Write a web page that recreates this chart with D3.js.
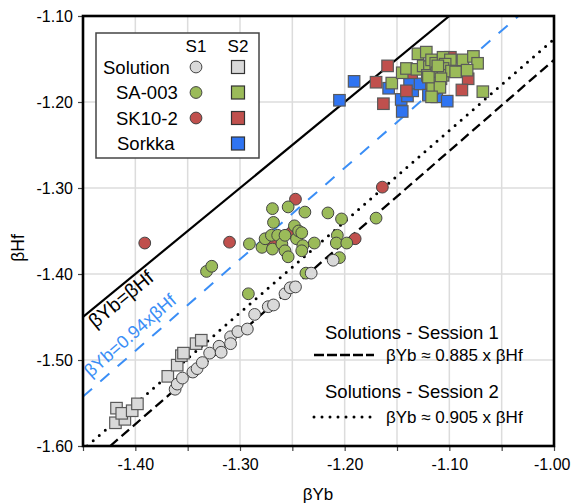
<!DOCTYPE html>
<html>
<head>
<meta charset="utf-8">
<script src="https://cdn.jsdelivr.net/npm/d3@7"></script>
<style>
  body { margin: 0; background: #fff; }
  svg { display: block; }
  text { font-family: "Liberation Sans", Arial, Helvetica, sans-serif; fill: #000; }
</style>
</head>
<body>
<svg id="chart" width="571" height="503"></svg>
<script>
// ---- data: [βYb, βHf] pairs ----
const solutionS1 = [[-1.362,-1.534],[-1.360,-1.528],[-1.355,-1.521],[-1.345,-1.514],[-1.341,-1.510],
  [-1.336,-1.503],[-1.329,-1.492],[-1.320,-1.484],[-1.318,-1.491],[-1.309,-1.473],[-1.309,-1.481],
  [-1.302,-1.467],[-1.293,-1.464],[-1.286,-1.447],[-1.273,-1.438],[-1.268,-1.436],[-1.257,-1.423],
  [-1.252,-1.416],[-1.247,-1.415],[-1.232,-1.399],[-1.211,-1.384]];
const solutionS2 = [[-1.419,-1.573],[-1.418,-1.556],[-1.410,-1.569],[-1.413,-1.562],[-1.403,-1.559],
  [-1.398,-1.551],[-1.369,-1.519],[-1.360,-1.506],[-1.356,-1.495],[-1.354,-1.492],[-1.342,-1.481],
  [-1.337,-1.477]];
const sa003S1 = [[-1.332,-1.397],[-1.327,-1.391],[-1.292,-1.423],[-1.291,-1.365],[-1.279,-1.369],
  [-1.276,-1.359],[-1.270,-1.355],[-1.269,-1.371],[-1.269,-1.324],[-1.268,-1.340],[-1.264,-1.355],
  [-1.260,-1.365],[-1.257,-1.355],[-1.257,-1.373],[-1.254,-1.322],[-1.254,-1.380],[-1.248,-1.344],
  [-1.246,-1.359],[-1.244,-1.350],[-1.241,-1.352],[-1.240,-1.367],[-1.241,-1.373],[-1.238,-1.328],
  [-1.229,-1.364],[-1.216,-1.329],[-1.207,-1.355],[-1.208,-1.364],[-1.198,-1.364],[-1.203,-1.336],
  [-1.205,-1.381],[-1.170,-1.335],[-1.237,-1.399]];
const sa003S2 = [[-1.155,-1.178],[-1.145,-1.166],[-1.141,-1.161],[-1.131,-1.162],[-1.130,-1.144],
  [-1.122,-1.142],[-1.125,-1.158],[-1.119,-1.159],[-1.117,-1.151],[-1.113,-1.155],[-1.106,-1.148],
  [-1.099,-1.151],[-1.104,-1.156],[-1.121,-1.169],[-1.112,-1.166],[-1.106,-1.161],[-1.106,-1.169],
  [-1.098,-1.164],[-1.094,-1.165],[-1.087,-1.151],[-1.077,-1.147],[-1.073,-1.155],[-1.083,-1.163],
  [-1.117,-1.178],[-1.108,-1.173],[-1.116,-1.184],[-1.109,-1.183],[-1.117,-1.194],[-1.068,-1.188],
  [-1.120,-1.171],[-1.111,-1.158]];
const sk102S1 = [[-1.391,-1.364],[-1.310,-1.363],[-1.247,-1.313],[-1.164,-1.299],[-1.190,-1.359],
  [-1.269,-1.364],[-1.251,-1.352]];
const sk102S2 = [[-1.170,-1.177],[-1.159,-1.158],[-1.163,-1.202],[-1.141,-1.187],[-1.099,-1.148],
  [-1.082,-1.173],[-1.088,-1.186],[-1.136,-1.166]];
const sorkkaS2 = [[-1.205,-1.198],[-1.191,-1.176],[-1.158,-1.184],[-1.146,-1.197],[-1.145,-1.211],
  [-1.140,-1.193],[-1.135,-1.187],[-1.138,-1.178],[-1.128,-1.179],[-1.120,-1.192],[-1.112,-1.194],
  [-1.102,-1.199]];

// reference and fitted lines, as [βYb, βHf] end points
const lineOneToOne = [[-1.45,-1.45],[-1.10,-1.10]];
const lineRatio094 = [[-1.45,-1.45/0.94],[-0.94*1.10,-1.10]];
const sessionOneFit = [[-1.424,-1.60],[-1.00,-1.151]];
const sessionTwoFit = [[-1.446,-1.60],[-1.00,-1.127]];

// axes
const xDomain = [-1.45, -1.00];
const yDomain = [-1.60, -1.10];
const xMinorTicks = [-1.45,-1.40,-1.35,-1.30,-1.25,-1.20,-1.15,-1.10,-1.05,-1.00];
const xTicks = [-1.40,-1.30,-1.20,-1.10,-1.00];
const xTickLabels = ["-1.40","-1.30","-1.20","-1.10","-1.00"];
const yTicks = [-1.60,-1.50,-1.40,-1.30,-1.20,-1.10];
const yTickLabels = ["-1.60","-1.50","-1.40","-1.30","-1.20","-1.10"];

const colors = { solution: "#d9d9d9", sa003: "#9bbb59", sk102: "#c0504d", sorkka: "#2f74f2" };
const refBlue = "#3a8ef6";

// ---- layout ----
const plot = { left: 83, right: 554, top: 16, bottom: 446 };
const svg = d3.select("#chart");
const x = d3.scaleLinear().domain(xDomain).range([plot.left, plot.right]);
const y = d3.scaleLinear().domain(yDomain).range([plot.bottom, plot.top]);

svg.append("defs").append("clipPath").attr("id", "plotClip")
  .append("rect").attr("x", plot.left).attr("y", plot.top)
  .attr("width", plot.right - plot.left).attr("height", plot.bottom - plot.top);

// grid
const grid = svg.append("g").attr("stroke", "#dcdcdc").attr("stroke-width", 1.5);
grid.selectAll("line.v").data(xMinorTicks.slice(1, -1)).join("line")
  .attr("x1", d => x(d)).attr("x2", d => x(d)).attr("y1", plot.top).attr("y2", plot.bottom);
grid.selectAll("line.h").data(yTicks.slice(1, -1)).join("line")
  .attr("y1", d => y(d)).attr("y2", d => y(d)).attr("x1", plot.left).attr("x2", plot.right);

// axes ticks and labels
const xAxis = d3.axisBottom(x).tickValues(xMinorTicks).tickSize(5).tickPadding(8)
  .tickFormat(d => { const i = xTicks.findIndex(t => Math.abs(t - d) < 1e-9); return i >= 0 ? xTickLabels[i] : ""; });
const gx = svg.append("g").attr("transform", `translate(0,${plot.bottom})`).call(xAxis);
const yAxis = d3.axisLeft(y).tickValues(yTicks).tickSize(5).tickPadding(5)
  .tickFormat((d, i) => yTickLabels[i]);
const gy = svg.append("g").attr("transform", `translate(${plot.left},0)`).call(yAxis);
[gx, gy].forEach(g => {
  g.select(".domain").remove();
  g.selectAll(".tick line").attr("stroke", "#444").attr("stroke-width", 1.2);
  g.selectAll(".tick text").attr("font-size", 16).attr("fill", "#000")
    .style("font-family", "'Liberation Sans', Arial, sans-serif");
});
// last x label sits against the page edge
gx.selectAll(".tick text").filter(d => Math.abs(d - xDomain[1]) < 1e-9)
  .attr("text-anchor", "end").attr("dx", 16);

// axis titles
svg.append("text").attr("x", 318).attr("y", 500).attr("text-anchor", "middle")
  .attr("font-size", 17).text("βYb");
svg.append("text").attr("transform", "translate(24,248) rotate(-90)").attr("text-anchor", "middle")
  .attr("font-size", 17.5).text("βHf");

// lines
const lineGen = d3.line().x(d => x(d[0])).y(d => y(d[1]));
const lines = svg.append("g").attr("clip-path", "url(#plotClip)").attr("fill", "none");
lines.append("path").attr("d", lineGen(lineOneToOne)).attr("stroke", "#000").attr("stroke-width", 2.2);
lines.append("path").attr("d", lineGen(lineRatio094)).attr("stroke", refBlue).attr("stroke-width", 2)
  .attr("stroke-dasharray", "12,11");
lines.append("path").attr("d", lineGen(sessionOneFit)).attr("stroke", "#000").attr("stroke-width", 2.3)
  .attr("stroke-dasharray", "10,5");
lines.append("path").attr("d", lineGen(sessionTwoFit)).attr("stroke", "#000").attr("stroke-width", 3)
  .attr("stroke-linecap", "round").attr("stroke-dasharray", "0,8");

// labels written along a line, placed at a βYb value with a perpendicular offset
function lineLabel(seg, atX, offset, along, text, size, color) {
  const p0 = [x(seg[0][0]), y(seg[0][1])], p1 = [x(seg[1][0]), y(seg[1][1])];
  const ang = Math.atan2(p1[1] - p0[1], p1[0] - p0[0]);
  const t = (atX - seg[0][0]) / (seg[1][0] - seg[0][0]);
  const px = p0[0] + t * (p1[0] - p0[0]), py = p0[1] + t * (p1[1] - p0[1]);
  svg.append("text")
    .attr("transform", `translate(${px},${py}) rotate(${ang * 180 / Math.PI}) translate(${along},${offset})`)
    .attr("font-size", size).style("fill", color).text(text);
}
lineLabel(lineOneToOne, -1.45, 17, 2, "βYb=βHf", 19.5, "#000");
lineLabel(lineRatio094, -1.45, -9, 18, "βYb=0.94xβHf", 18, refBlue);

// markers
const marks = svg.append("g").attr("clip-path", "url(#plotClip)");
const sq = 11.5, rad = 5.9;
function squares(data, color) {
  marks.append("g").selectAll("rect").data(data).join("rect")
    .attr("x", d => x(d[0]) - sq / 2).attr("y", d => y(d[1]) - sq / 2)
    .attr("width", sq).attr("height", sq)
    .attr("fill", color).attr("stroke", "#5a5a5a").attr("stroke-width", 1.2);
}
function circles(data, color) {
  marks.append("g").selectAll("circle").data(data).join("circle")
    .attr("cx", d => x(d[0])).attr("cy", d => y(d[1])).attr("r", rad)
    .attr("fill", color).attr("stroke", "#444").attr("stroke-width", 1);
}
squares(sorkkaS2, colors.sorkka);
squares(sk102S2, colors.sk102);
squares(sa003S2, colors.sa003);
squares(solutionS2, colors.solution);
circles(sk102S1, colors.sk102);
circles(sa003S1, colors.sa003);
circles(solutionS1, colors.solution);

// plot frame
svg.append("rect").attr("x", plot.left).attr("y", plot.top)
  .attr("width", plot.right - plot.left).attr("height", plot.bottom - plot.top)
  .attr("fill", "none").attr("stroke", "#000").attr("stroke-width", 2.6);

// sample legend
const legend = svg.append("g");
legend.append("rect").attr("x", 96).attr("y", 33).attr("width", 163).attr("height", 125)
  .attr("fill", "#fff").attr("stroke", "#444").attr("stroke-width", 1.5);
legend.append("text").attr("x", 196).attr("y", 52).attr("text-anchor", "middle").attr("font-size", 17).text("S1");
legend.append("text").attr("x", 238).attr("y", 52).attr("text-anchor", "middle").attr("font-size", 17).text("S2");
const legendRows = [
  { name: "Solution", color: colors.solution, s1: true, tx: 103 },
  { name: "SA-003", color: colors.sa003, s1: true, tx: 116 },
  { name: "SK10-2", color: colors.sk102, s1: true, tx: 116 },
  { name: "Sorkka", color: colors.sorkka, s1: false, tx: 117 }
];
legendRows.forEach((r, i) => {
  const cy = 67 + i * 25.5;
  legend.append("text").attr("x", r.tx).attr("y", cy + 6.5).attr("font-size", 18.5).text(r.name);
  if (r.s1) legend.append("circle").attr("cx", 196).attr("cy", cy).attr("r", rad)
    .attr("fill", r.color).attr("stroke", "#444").attr("stroke-width", 1);
  legend.append("rect").attr("x", 238 - 6.5).attr("y", cy - 6.5).attr("width", 13).attr("height", 13)
    .attr("fill", r.color).attr("stroke", "#333").attr("stroke-width", 1.2);
});

// fitted-line legend
const fitLegend = svg.append("g");
fitLegend.append("text").attr("x", 325).attr("y", 339).attr("font-size", 18.5).text("Solutions - Session 1");
fitLegend.append("line").attr("x1", 314).attr("x2", 374).attr("y1", 355).attr("y2", 355)
  .attr("stroke", "#000").attr("stroke-width", 2.5).attr("stroke-dasharray", "10,3");
fitLegend.append("text").attr("x", 386).attr("y", 361).attr("font-size", 17).text("βYb ≈ 0.885 x βHf");
fitLegend.append("text").attr("x", 325).attr("y", 398).attr("font-size", 18.5).text("Solutions - Session 2");
fitLegend.append("line").attr("x1", 314).attr("x2", 378).attr("y1", 417).attr("y2", 417)
  .attr("stroke", "#000").attr("stroke-width", 3).attr("stroke-linecap", "round").attr("stroke-dasharray", "0,8");
fitLegend.append("text").attr("x", 386).attr("y", 423).attr("font-size", 17).text("βYb ≈ 0.905 x βHf");
</script>
</body>
</html>
